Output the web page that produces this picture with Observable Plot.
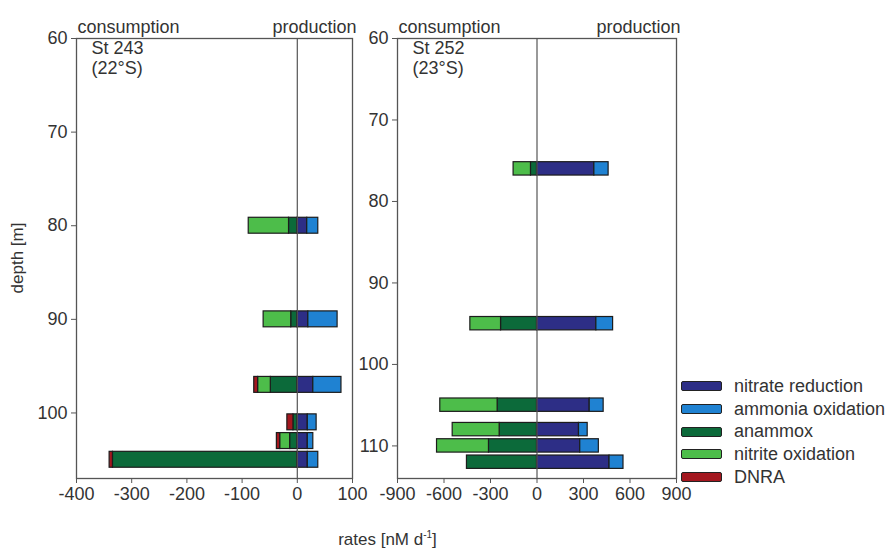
<!DOCTYPE html>
<html><head><meta charset="utf-8">
<script src="https://cdn.jsdelivr.net/npm/d3@7"></script>
<script src="https://cdn.jsdelivr.net/npm/@observablehq/plot@0.6"></script>
<style>
body{margin:0;background:#fff;font-family:"Liberation Sans",Arial,sans-serif;color:#333;}
#wrap{position:relative;width:888px;height:551px;overflow:hidden;background:#fff;}
.panel{position:absolute;top:0;}
#legend{position:absolute;left:681px;top:375px;font-size:18px;}
.row{display:flex;align-items:center;height:22.7px;white-space:nowrap;}
.sw{width:39px;height:8px;border:1.5px solid #222;border-radius:2px;margin-right:12px;}
#xlabel{position:absolute;left:0;width:775px;text-align:center;top:529px;font-size:17px;}
#ylabel{position:absolute;left:18px;top:258px;font-size:17px;transform:translate(-50%,-50%) rotate(-90deg);white-space:nowrap;}
</style></head><body>
<div id="wrap">
  <div id="p1" class="panel" style="left:0px"></div>
  <div id="p2" class="panel" style="left:340px"></div>
  <div id="legend"></div>
  <div id="xlabel">rates [nM d<sup style="font-size:10px">-1</sup>]</div>
  <div id="ylabel">depth [m]</div>
</div>
<script>
// ---- data ----
const processes = ["nitrate reduction", "ammonia oxidation", "anammox", "nitrite oxidation", "DNRA"];
const processColors = ["#2d2e86", "#1f82d2", "#0c6a3a", "#4dbd4a", "#a3171f"];

// Station 243 (22°S)
const st243Depths = [80, 90, 97, 101, 103, 105];
const st243NitrateReduction = [18, 20, 29, 19, 19, 19];
const st243AmmoniaOxidation = [20, 53, 51, 16, 10, 19];
const st243Anammox = [-15, -11, -48, -7, -13, -334];
const st243NitriteOxidation = [-73, -50, -23, 0, -18, 0];
const st243DNRA = [0, 0, -7, -11, -6, -6];

// Station 252 (23°S)
const st252Depths = [76, 95, 105, 108, 110, 112];
const st252NitrateReduction = [370, 383, 340, 271, 279, 468];
const st252AmmoniaOxidation = [92, 108, 90, 56, 120, 90];
const st252Anammox = [-39, -232, -254, -241, -310, -452];
const st252NitriteOxidation = [-112, -198, -370, -303, -335, 0];
const st252DNRA = [0, 0, 0, 0, 0, 0];

const st243XTicks = [-400, -300, -200, -100, 0, 100];
const st243YTicks = [60, 70, 80, 90, 100];
const st252XTicks = [-900, -600, -300, 0, 300, 600, 900];
const st252YTicks = [60, 70, 80, 90, 100, 110];

// ---- build ----
const colorOf = Object.fromEntries(processes.map((p, i) => [p, processColors[i]]));

function segments(depths, series, half) {
  const out = [];
  depths.forEach((d, i) => {
    let pos = 0, neg = 0;
    for (const p of processes) {
      const v = series[p][i];
      if (!v) continue;
      if (v > 0) { out.push({p, x1: pos, x2: pos + v, y1: d - half, y2: d + half}); pos += v; }
      else { out.push({p, x1: neg, x2: neg + v, y1: d - half, y2: d + half}); neg += v; }
    }
  });
  return out;
}

function panel(o) {
  const segs = segments(o.depths, o.series, o.half);
  const fmt = d => String(d);
  return Plot.plot({
    width: o.width, height: 520,
    marginLeft: o.marginLeft, marginRight: o.marginRight, marginTop: 38, marginBottom: 42,
    style: {fontFamily: "'Liberation Sans', Arial, sans-serif", fontSize: "18px", color: "#333", background: "transparent", overflow: "visible"},
    x: {domain: o.xDomain, label: null},
    y: {domain: o.yDomain, reverse: true, label: null},
    marks: [
      Plot.rect(segs, {x1: "x1", x2: "x2", y1: "y1", y2: "y2", fill: d => colorOf[d.p], stroke: "#1c1c1c", strokeWidth: 1.2}),
      Plot.ruleX([0], {stroke: "#555", strokeWidth: 1.2}),
      Plot.frame({stroke: "#555", strokeWidth: 1.3}),
      Plot.axisX({ticks: o.xTicks, tickFormat: fmt, tickSize: 5, tickPadding: 4, label: null, stroke: "#555"}),
      Plot.axisY({ticks: o.yTicks, tickFormat: fmt, tickSize: 5, tickPadding: 4, label: null, stroke: "#555"}),
      Plot.text(["consumption"], {frameAnchor: "top-left", textAnchor: "start", lineAnchor: "bottom", dx: 1, dy: -6, fill: "#333"}),
      Plot.text(["production"], {frameAnchor: "top-right", textAnchor: "end", lineAnchor: "bottom", dx: 4, dy: -6, fill: "#333"}),
      Plot.text([o.label], {frameAnchor: "top-left", textAnchor: "start", lineAnchor: "top", dx: 15, dy: 2, lineHeight: 1.08, fill: "#333"})
    ]
  });
}

document.getElementById("p1").appendChild(panel({
  depths: st243Depths,
  series: {"nitrate reduction": st243NitrateReduction, "ammonia oxidation": st243AmmoniaOxidation, "anammox": st243Anammox, "nitrite oxidation": st243NitriteOxidation, "DNRA": st243DNRA},
  half: 0.85, width: 370, marginLeft: 76, marginRight: 18,
  xDomain: [-400, 100], yDomain: [60, 107], xTicks: st243XTicks, yTicks: st243YTicks,
  label: "St 243\n(22°S)"
}));
document.getElementById("p2").appendChild(panel({
  depths: st252Depths,
  series: {"nitrate reduction": st252NitrateReduction, "ammonia oxidation": st252AmmoniaOxidation, "anammox": st252Anammox, "nitrite oxidation": st252NitriteOxidation, "DNRA": st252DNRA},
  half: 0.82, width: 360, marginLeft: 57, marginRight: 24,
  xDomain: [-900, 900], yDomain: [60, 114], xTicks: st252XTicks, yTicks: st252YTicks,
  label: "St 252\n(23°S)"
}));

const leg = document.getElementById("legend");
processes.forEach((p, i) => {
  const r = document.createElement("div"); r.className = "row";
  const s = document.createElement("div"); s.className = "sw"; s.style.background = processColors[i];
  const t = document.createElement("span"); t.textContent = p;
  r.appendChild(s); r.appendChild(t); leg.appendChild(r);
});
</script>
</body></html>
